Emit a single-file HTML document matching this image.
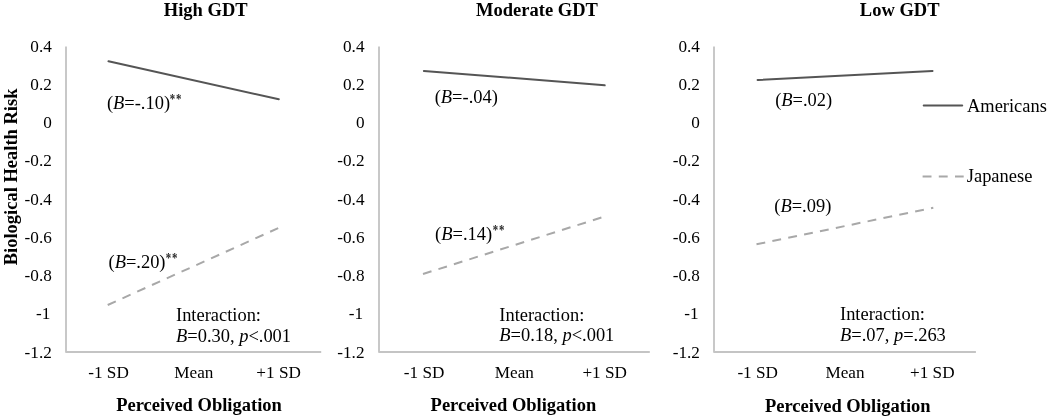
<!DOCTYPE html>
<html><head><meta charset="utf-8">
<style>
html,body{margin:0;padding:0;background:#fff;}
body{width:1050px;height:418px;overflow:hidden;}
svg{display:block;will-change:transform;font-family:"Liberation Serif",serif;}
text{fill:#000;}
.t{font-size:17.2px;}
.a{font-size:18.45px;}
.s{font-size:12.6px;font-weight:bold;letter-spacing:1px;fill:#2a2a2a;}
.b{font-size:18.5px;font-weight:bold;}
.ax{stroke:#c4c4c4;stroke-width:1.85;fill:none;stroke-linejoin:round;}
.am{stroke:#555;stroke-width:2;fill:none;stroke-linecap:round;}
.jp{stroke:#a8a8a8;stroke-width:2;fill:none;stroke-dasharray:8.9 7.3;}
i{font-style:italic;}
</style></head><body>
<svg width="1050" height="418" viewBox="0 0 1050 418">
<rect width="1050" height="418" fill="#fff"/>
<!-- Panel 1 -->
<text class="b" x="205.7" y="16.2" text-anchor="middle">High GDT</text>
<text class="b" transform="translate(17,176.9) rotate(-90)" text-anchor="middle">Biological Health Risk</text>
<g class="t" text-anchor="end"><text x="51.8" y="51.50">0.4</text><text x="51.8" y="89.75">0.2</text><text x="51.8" y="128.00">0</text><text x="51.8" y="166.25">-0.2</text><text x="51.8" y="204.50">-0.4</text><text x="51.8" y="242.75">-0.6</text><text x="51.8" y="281.00">-0.8</text><text x="50.4" y="319.25">-1</text><text x="51.8" y="357.50">-1.2</text></g>
<path class="ax" d="M66 46.4V352H321.2"/>
<path class="am" d="M108.5 61.3L278.8 99.3"/>
<path class="jp" d="M107.7 305L278.2 228.1"/>
<g class="t" text-anchor="middle"><text x="108.5" y="377.5">-1 SD</text><text x="193.9" y="377.5">Mean</text><text x="278.6" y="377.5">+1 SD</text></g>
<text class="b" x="199" y="411" text-anchor="middle">Perceived Obligation</text>
<text class="a" x="106.9" y="108.5">(<tspan font-style="italic">B</tspan>=-.10)</text><text class="s" transform="translate(169.65,103.75) scale(0.86,1.16)">**</text>
<text class="a" x="108.5" y="268">(<tspan font-style="italic">B</tspan>=.20)</text><text class="s" transform="translate(165.64,263.30) scale(0.86,1.16)">**</text>
<text class="a" x="176" y="320.8">Interaction:</text>
<text class="a" x="176" y="341.7"><tspan font-style="italic">B</tspan>=0.30, <tspan font-style="italic">p</tspan>&lt;.001</text>
<!-- Panel 2 -->
<text class="b" x="537" y="16.2" text-anchor="middle">Moderate GDT</text>
<g class="t" text-anchor="end"><text x="364.5" y="51.50">0.4</text><text x="364.5" y="89.75">0.2</text><text x="364.5" y="128.00">0</text><text x="364.5" y="166.25">-0.2</text><text x="364.5" y="204.50">-0.4</text><text x="364.5" y="242.75">-0.6</text><text x="364.5" y="281.00">-0.8</text><text x="363.1" y="319.25">-1</text><text x="364.5" y="357.50">-1.2</text></g>
<path class="ax" d="M379 46.4V352H649.8"/>
<path class="am" d="M423.9 70.9L604.7 85.3"/>
<path class="jp" d="M423 274L604.7 216.5"/>
<g class="t" text-anchor="middle"><text x="424.1" y="377.5">-1 SD</text><text x="514.4" y="377.5">Mean</text><text x="604.7" y="377.5">+1 SD</text></g>
<text class="b" x="513.4" y="411" text-anchor="middle">Perceived Obligation</text>
<text class="a" x="434.7" y="103.4">(<tspan font-style="italic">B</tspan>=-.04)</text>
<text class="a" x="435.1" y="239.7">(<tspan font-style="italic">B</tspan>=.14)</text><text class="s" transform="translate(492.74,235.30) scale(0.86,1.16)">**</text>
<text class="a" x="499.3" y="320.5">Interaction:</text>
<text class="a" x="499.3" y="341.4"><tspan font-style="italic">B</tspan>=0.18, <tspan font-style="italic">p</tspan>&lt;.001</text>
<!-- Panel 3 -->
<text class="b" x="899.7" y="16.2" text-anchor="middle">Low GDT</text>
<g class="t" text-anchor="end"><text x="699.9" y="51.50">0.4</text><text x="699.9" y="89.75">0.2</text><text x="699.9" y="128.00">0</text><text x="699.9" y="166.25">-0.2</text><text x="699.9" y="204.50">-0.4</text><text x="699.9" y="242.75">-0.6</text><text x="699.9" y="281.00">-0.8</text><text x="698.5" y="319.25">-1</text><text x="699.9" y="357.50">-1.2</text></g>
<path class="ax" d="M714 46.4V352H975.9"/>
<path class="am" d="M757.6 80L932.5 70.9"/>
<path class="jp" d="M756.5 244.3L933.3 207.8"/>
<g class="t" text-anchor="middle"><text x="757.7" y="377.5">-1 SD</text><text x="845" y="377.5">Mean</text><text x="932.3" y="377.5">+1 SD</text></g>
<text class="b" x="847.8" y="412.2" text-anchor="middle">Perceived Obligation</text>
<text class="a" x="775.2" y="105.5">(<tspan font-style="italic">B</tspan>=.02)</text>
<text class="a" x="774.3" y="211.85">(<tspan font-style="italic">B</tspan>=.09)</text>
<text class="a" x="840" y="319.6">Interaction:</text>
<text class="a" x="840" y="340.6"><tspan font-style="italic">B</tspan>=.07, <tspan font-style="italic">p</tspan>=.263</text>
<!-- Legend -->
<path class="am" d="M923.7 105.4H962.2"/>
<text class="a" x="967" y="111.8">Americans</text>
<path class="jp" d="M922.6 176.4H963.7"/>
<text class="a" x="966.8" y="182">Japanese</text>
</svg>
</body></html>
